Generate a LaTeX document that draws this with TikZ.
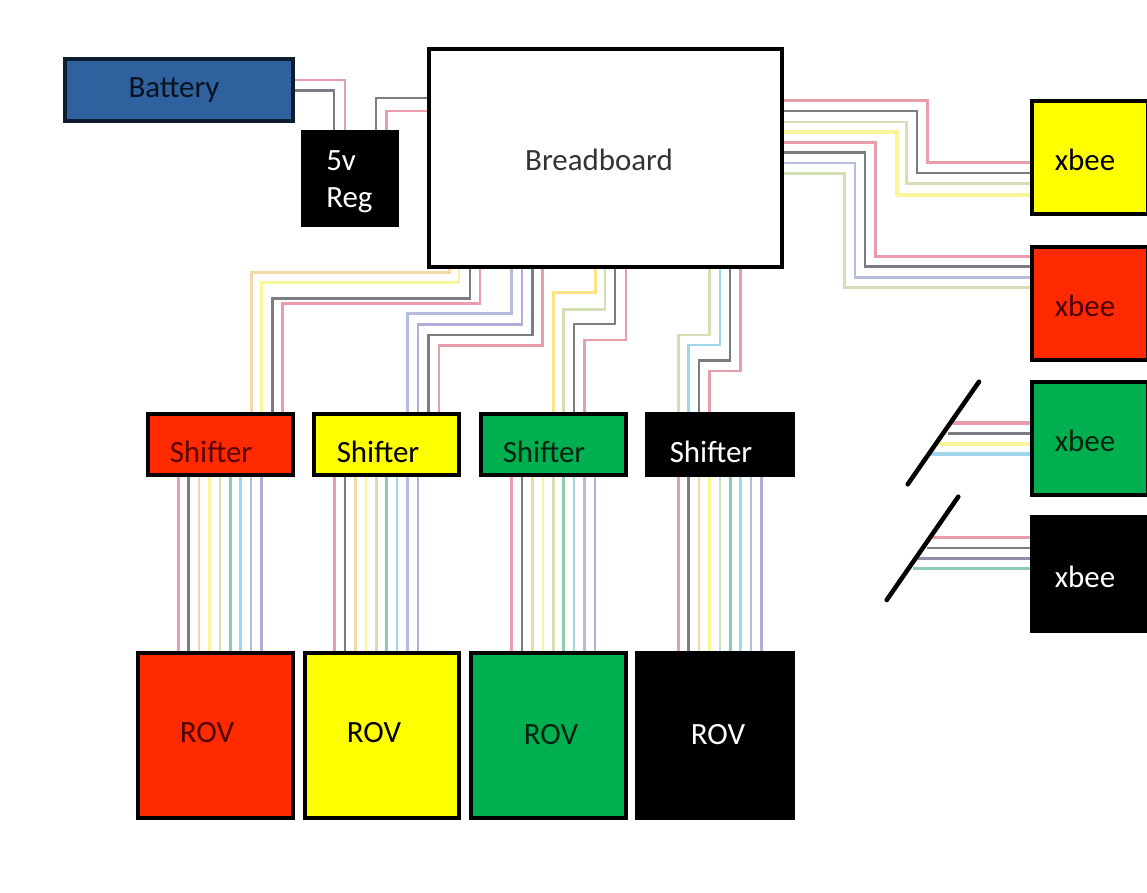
\documentclass[tikz,border=0pt]{standalone}
\usepackage{fontspec}
\setmainfont{Carlito}
\pgfdeclarelayer{wires}
\pgfsetlayers{wires,main}
\definecolor{wred}{HTML}{E89EAA}
\definecolor{wblk}{HTML}{7C7C84}
\definecolor{wora}{HTML}{F5D8A8}
\definecolor{wyel}{HTML}{FBF59A}
\definecolor{wpal}{HTML}{D2E0B4}
\definecolor{wgrn}{HTML}{8CCDB0}
\definecolor{wblu}{HTML}{A0D6EE}
\definecolor{wbgr}{HTML}{B4BEDC}
\definecolor{wpur}{HTML}{B6AAD8}
\definecolor{cblue}{HTML}{2F619E}
\definecolor{cred}{HTML}{FF2A00}
\definecolor{cyel}{HTML}{FFFF00}
\definecolor{cgrn}{HTML}{00B050}
\tikzset{
  x=0.75pt,y=-0.75pt,
  wire/.style={line width=2pt,line join=miter},
  thickwire/.style={line width=2.8pt,line join=miter},
  box/.style={draw=black,line width=2.3pt,inner sep=0pt,outer sep=0pt,rectangle},
  lbl/.style={font=\fontsize{23.2pt}{27pt}\selectfont,inner sep=0pt},
  slash/.style={draw=black,line width=3.4pt,line cap=round}
}
\newcommand{\pbox}[6]{\node[box,#6,minimum width={(#4-#2)*0.75pt},minimum height={(#5-#3)*0.75pt}] (#1) at ({(#2+#4)/2},{(#3+#5)/2}) {};}
\begin{document}
\begin{tikzpicture}
\useasboundingbox (0,0) rectangle (1147,893);
% boxes
\pbox{bat}{65}{59}{293}{121}{fill=cblue,draw=black!70!cblue}
\pbox{reg}{303}{132}{397}{225}{fill=black}
\pbox{bb}{429}{49}{782}{267}{fill=white}
\pbox{x1}{1032}{101}{1148}{214}{fill=cyel}
\pbox{x2}{1032}{247}{1148}{360}{fill=cred}
\pbox{x3}{1032}{382}{1148}{495}{fill=cgrn}
\pbox{x4}{1032}{517}{1148}{631}{fill=black}
\pbox{s1}{148}{414}{293}{475}{fill=cred}
\pbox{s2}{314}{414}{459}{475}{fill=cyel}
\pbox{s3}{481}{414}{626}{475}{fill=cgrn}
\pbox{s4}{647}{414}{793}{475}{fill=black}
\pbox{r1}{138}{653}{293}{818}{fill=cred}
\pbox{r2}{305}{653}{459}{818}{fill=cyel}
\pbox{r3}{471}{653}{626}{818}{fill=cgrn}
\pbox{r4}{637}{653}{793}{818}{fill=black}
% free ends of the xbee stubs and the two slashes
\coordinate (a1) at (951,423.3);
\coordinate (a2) at (948,433.7);
\coordinate (a3) at (937,444.3);
\coordinate (a4) at (930,454.3);
\coordinate (b1) at (930,537.7);
\coordinate (b2) at (926.7,548);
\coordinate (b3) at (918,558.3);
\coordinate (b4) at (913,568.7);
\coordinate (c1) at (979,381.7);
\coordinate (c2) at (907.7,484.3);
\coordinate (d1) at (958.3,496.7);
\coordinate (d2) at (886.7,600);
\begin{pgfonlayer}{wires}
\fill[white] (0,0) rectangle (1147,893);
% battery and regulator
\draw[wire,wred] (bat.east |- 0,80) -- (345,80) -- (345,0 |- reg.north);
\draw[wire,wblk] (bat.east |- 0,90.3) -- (334,90.3) -- (334,0 |- reg.north);
\draw[wire,wblk] (bb.west |- 0,98) -- (376,98) -- (376,0 |- reg.north);
\draw[wire,wred] (bb.west |- 0,111) -- (386.7,111) -- (386.7,0 |- reg.north);
% breadboard to xbees
\draw[wire,wred] (bb.east |- 0,100.5) -- (927.7,100.5) -- (927.7,162.7) -- (x1.west |- 0,162.7);
\draw[wire,wblk] (bb.east |- 0,111) -- (917,111) -- (917,173) -- (x1.west |- 0,173);
\draw[wire,wpal] (bb.east |- 0,122) -- (906.7,122) -- (906.7,183.7) -- (x1.west |- 0,183.7);
\draw[thickwire,wyel] (bb.east |- 0,132) -- (896.7,132) -- (896.7,195) -- (x1.west |- 0,195);
\draw[wire,wred] (bb.east |- 0,142.3) -- (875.7,142.3) -- (875.7,256.3) -- (x2.west |- 0,256.3);
\draw[wire,wblk] (bb.east |- 0,152.7) -- (865,152.7) -- (865,266.7) -- (x2.west |- 0,266.7);
\draw[wire,wbgr] (bb.east |- 0,163) -- (855,163) -- (855,277.3) -- (x2.west |- 0,277.3);
\draw[wire,wpal] (bb.east |- 0,173.3) -- (844.3,173.3) -- (844.3,287.7) -- (x2.west |- 0,287.7);
% breadboard to shifter 1
\draw[wire,wora] (449.3,0 |- bb.south) -- (449.3,272.7) -- (251.7,272.7) -- (251.7,0 |- s1.north);
\draw[wire,wyel] (459,0 |- bb.south) -- (459,282.7) -- (261.7,282.7) -- (261.7,0 |- s1.north);
\draw[wire,wblk] (470,0 |- bb.south) -- (470,298.3) -- (272.3,298.3) -- (272.3,0 |- s1.north);
\draw[wire,wred] (480,0 |- bb.south) -- (480,303.3) -- (282.7,303.3) -- (282.7,0 |- s1.north);
% shifter 2
\draw[wire,wbgr] (511.7,0 |- bb.south) -- (511.7,313.3) -- (407.3,313.3) -- (407.3,0 |- s2.north);
\draw[wire,wpur] (522,0 |- bb.south) -- (522,324.3) -- (418,324.3) -- (418,0 |- s2.north);
\draw[wire,wblk] (532.3,0 |- bb.south) -- (532.3,335) -- (428.3,335) -- (428.3,0 |- s2.north);
\draw[wire,wred] (542.7,0 |- bb.south) -- (542.7,345.7) -- (439,345.7) -- (439,0 |- s2.north);
% shifter 3
\draw[wire,wyel!85!orange] (595.7,0 |- bb.south) -- (595.7,292.7) -- (553.3,292.7) -- (553.3,0 |- s3.north);
\draw[wire,wpal] (605,0 |- bb.south) -- (605,309.3) -- (563.3,309.3) -- (563.3,0 |- s3.north);
\draw[wire,wblk] (615,0 |- bb.south) -- (615,324) -- (574,324) -- (574,0 |- s3.north);
\draw[wire,wred] (626,0 |- bb.south) -- (626,340) -- (584.3,340) -- (584.3,0 |- s3.north);
% shifter 4
\draw[wire,wpal] (709.3,0 |- bb.south) -- (709.3,335) -- (678.3,335) -- (678.3,0 |- s4.north);
\draw[wire,wblu] (720,0 |- bb.south) -- (720,345) -- (688.3,345) -- (688.3,0 |- s4.north);
\draw[wire,wblk] (730,0 |- bb.south) -- (730,360.7) -- (699,360.7) -- (699,0 |- s4.north);
\draw[wire,wred] (740.7,0 |- bb.south) -- (740.7,371) -- (709.3,371) -- (709.3,0 |- s4.north);
% shifter to ROV ribbons
\foreach \b/\s/\r in {178.3/s1/r1,334.7/s2/r2,511.7/s3/r3,678.3/s4/r4}{
  \foreach \i/\c in {0/wred,1/wblk,2/wora,3/wyel,4/wpal,5/wgrn,6/wblu,7/wbgr,8/wpur}{
    \pgfmathsetmacro{\xx}{\b+\i*10.4}
    \draw[wire,\c] (\xx,0 |- \s.south) -- (\xx,0 |- \r.north);
  }
}
% xbee stubs
\draw[thickwire,wred] (a1) -- (x3.west |- a1);
\draw[wire,wblk] (a2) -- (x3.west |- a2);
\draw[thickwire,wyel] (a3) -- (x3.west |- a3);
\draw[thickwire,wblu] (a4) -- (x3.west |- a4);
\draw[wire,wred] (b1) -- (x4.west |- b1);
\draw[wire,wblk] (b2) -- (x4.west |- b2);
\draw[wire,wblk!60!wpur] (b3) -- (x4.west |- b3);
\draw[wire,wgrn] (b4) -- (x4.west |- b4);
\end{pgfonlayer}
\draw[slash] (c1) -- (c2);
\draw[slash] (d1) -- (d2);
% labels
\node[lbl,text=black!80!cblue] (tbat) at (174,90) {Battery};
\node[lbl,text=white,anchor=base west] (t5v) at (326,170) {5v};
\node[lbl,text=white,anchor=base west] (treg) at (326,207) {Reg};
\node[lbl,text=black!80] (tbb) at (599,160) {Breadboard};
\node[lbl] (tx1) at (1085,160) {xbee};
\node[lbl,text=black!70!red] (tx2) at (1085,306) {xbee};
\node[lbl,text=black!80!cgrn] (tx3) at (1085,441) {xbee};
\node[lbl,text=white] (tx4) at (1085,577) {xbee};
\node[lbl,text=black!65!red] (ts1) at (211,452) {Shifter};
\node[lbl] (ts2) at (378,452) {Shifter};
\node[lbl,text=black!80!cgrn] (ts3) at (544,452) {Shifter};
\node[lbl,text=white] (ts4) at (711,452) {Shifter};
\node[lbl,text=black!70!red] (tr1) at (207,733) {ROV};
\node[lbl] (tr2) at (374,733) {ROV};
\node[lbl,text=black!80!cgrn] (tr3) at (551,735) {ROV};
\node[lbl,text=white] (tr4) at (718,735) {ROV};
\end{tikzpicture}
\end{document}
